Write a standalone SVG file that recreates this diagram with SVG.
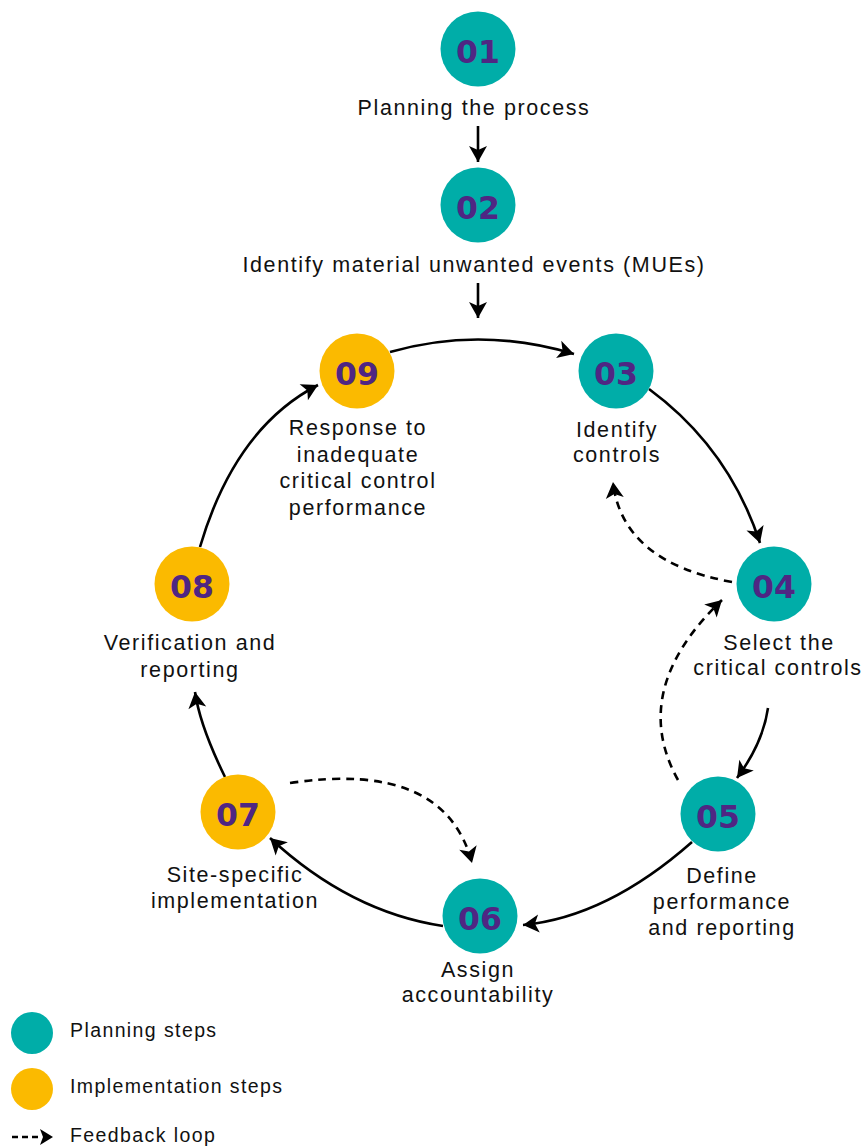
<svg xmlns="http://www.w3.org/2000/svg" width="866" height="1146" viewBox="0 0 866 1146">
<style>
.plan{fill:#00ADA8}
.impl{fill:#FBBA00}
.num{font-family:"DejaVu Sans","Liberation Sans",sans-serif;font-weight:bold;font-size:31.5px;fill:#4F2683;text-anchor:middle}
.lbl{font-family:"Liberation Sans",Arial,sans-serif;font-size:21.5px;letter-spacing:1.6px;fill:#111;text-anchor:middle}
.leg{font-family:"Liberation Sans",Arial,sans-serif;font-size:19.5px;letter-spacing:1.4px;fill:#111}
.solid{fill:none;stroke:#000;stroke-width:2.6}
.dash{fill:none;stroke:#000;stroke-width:2.6;stroke-dasharray:8 6}
</style>
<defs>
<marker id="ah" markerUnits="userSpaceOnUse" markerWidth="24" markerHeight="24" viewBox="-18 -12 24 24" refX="0" refY="0" orient="auto">
<path d="M0,0 L-16,-9 L-12,0 L-16,9 Z" fill="#000"/>
</marker>
</defs>
<rect width="866" height="1146" fill="#fff"/>
<g id="connectors">
<path class="solid" d="M478,126 L478,162" marker-end="url(#ah)"/>
<path class="solid" d="M478,283 L478,318" marker-end="url(#ah)"/>
<path class="solid" d="M390,352 Q481,326 574,354" marker-end="url(#ah)"/>
<path class="solid" d="M649,389 Q729,448 760,543" marker-end="url(#ah)"/>
<path class="dash" d="M732,582 Q622,562 613,482" marker-end="url(#ah)"/>
<path class="dash" d="M678,780 Q628,690 722,600" marker-end="url(#ah)"/>
<path class="solid" d="M768,708 Q763,743 737,778" marker-end="url(#ah)"/>
<path class="solid" d="M692,842 Q607,917 523,925" marker-end="url(#ah)"/>
<path class="solid" d="M443,926 Q350,912 270,838" marker-end="url(#ah)"/>
<path class="dash" d="M290,783 Q445,760 472,863" marker-end="url(#ah)"/>
<path class="solid" d="M225,777 Q200,726 195,692" marker-end="url(#ah)"/>
<path class="solid" d="M200,547 Q235,428 318,385" marker-end="url(#ah)"/>
</g>
<g id="n01"><circle class="plan" cx="478" cy="49" r="37.5"/><text class="num" x="478" y="63">01</text><text class="lbl" x="474" y="115">Planning the process</text></g>
<g id="n02"><circle class="plan" cx="478" cy="205" r="37.5"/><text class="num" x="478" y="219">02</text><text class="lbl" x="474" y="272">Identify material unwanted events (MUEs)</text></g>
<g id="n03"><circle class="plan" cx="616" cy="371" r="37.5"/><text class="num" x="616" y="385">03</text><text class="lbl" x="617" y="437">Identify</text><text class="lbl" x="617" y="462">controls</text></g>
<g id="n04"><circle class="plan" cx="774" cy="584" r="37.5"/><text class="num" x="774" y="598">04</text><text class="lbl" x="779" y="650">Select the</text><text class="lbl" x="778" y="675">critical controls</text></g>
<g id="n05"><circle class="plan" cx="718" cy="814" r="37.5"/><text class="num" x="718" y="828">05</text><text class="lbl" x="722" y="883">Define</text><text class="lbl" x="722" y="909">performance</text><text class="lbl" x="722" y="935">and reporting</text></g>
<g id="n06"><circle class="plan" cx="480" cy="916" r="37.5"/><text class="num" x="480" y="930">06</text><text class="lbl" x="478" y="977">Assign</text><text class="lbl" x="478" y="1002">accountability</text></g>
<g id="n07"><circle class="impl" cx="238" cy="812" r="37.5"/><text class="num" x="238" y="826">07</text><text class="lbl" x="235" y="882">Site-specific</text><text class="lbl" x="235" y="908">implementation</text></g>
<g id="n08"><circle class="impl" cx="192" cy="584" r="37.5"/><text class="num" x="192" y="598">08</text><text class="lbl" x="190" y="650">Verification and</text><text class="lbl" x="190" y="677">reporting</text></g>
<g id="n09"><circle class="impl" cx="357" cy="371" r="37.5"/><text class="num" x="357" y="385">09</text><text class="lbl" x="358" y="435">Response to</text><text class="lbl" x="358" y="462">inadequate</text><text class="lbl" x="358" y="488">critical control</text><text class="lbl" x="358" y="515">performance</text></g>
<g id="legend">
<circle class="plan" cx="32" cy="1033" r="21"/><text class="leg" x="70" y="1037">Planning steps</text>
<circle class="impl" cx="32" cy="1089" r="21"/><text class="leg" x="70" y="1093">Implementation steps</text>
<path class="dash" d="M12,1137 L40,1137" style="stroke-dasharray:6 4"/>
<path d="M53,1137 L40,1129 L43,1137 L40,1145 Z" fill="#000"/>
<text class="leg" x="70" y="1142">Feedback loop</text>
</g>
</svg>
